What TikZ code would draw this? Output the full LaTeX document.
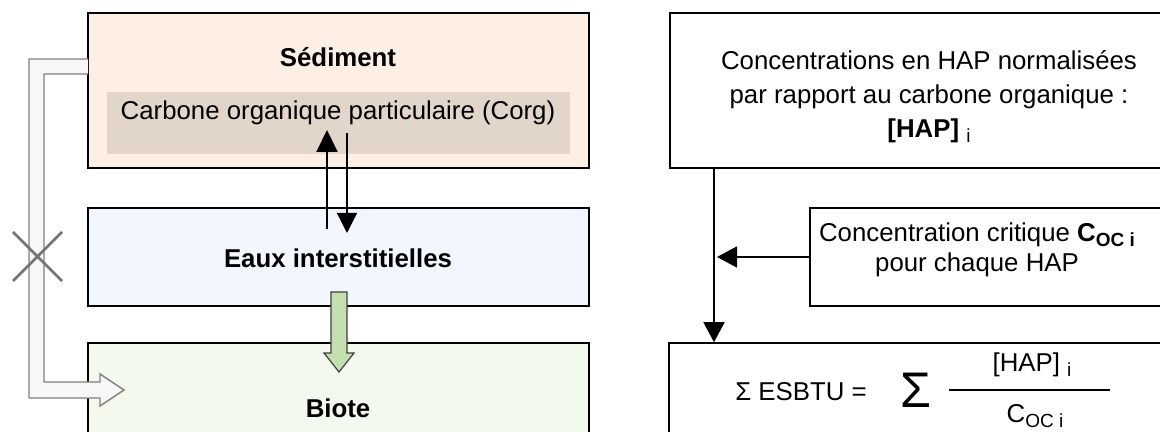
\documentclass[tikz,border=0pt]{standalone}
\usepackage{fontspec}
\setmainfont{Liberation Sans}
\usetikzlibrary{arrows.meta}

\definecolor{sedfill}{RGB}{253,239,227}
\definecolor{corgfill}{RGB}{226,214,202}
\definecolor{eauxfill}{RGB}{242,247,255}
\definecolor{biotefill}{RGB}{243,249,236}
\definecolor{greenarrow}{RGB}{196,224,176}
\definecolor{grayline}{RGB}{128,128,128}

\newcommand{\low}[1]{\raisebox{-0.35ex}{\fontsize{9.5}{10}\selectfont #1}}

\tikzstyle{box}=[draw=black, line width=0.8pt, inner sep=0pt]
\tikzstyle{txt}=[font=\fontsize{12.9}{17}\selectfont, align=center, inner sep=0pt]
\tikzstyle{arr}=[-{Triangle[length=10pt,width=10.5pt]}, line width=0.8pt]

\begin{document}
\begin{tikzpicture}[x=0.5pt, y=-0.5pt]
\useasboundingbox (0,0) rectangle (1160,432);

% left column
\node[box, fill=sedfill, minimum width=250.5pt, minimum height=77.5pt] (sed) at (338.5,90.5) {};
\node[fill=corgfill, inner sep=0pt, minimum width=231.5pt, minimum height=31pt] (corg) at (338.5,123) {};
\node[txt, font=\fontsize{12.9}{17}\selectfont\bfseries] (sedT) at (338,57) {Sédiment};
\node[txt] (corgT) at (338,113) {Carbone organique particulaire (Corg)};

\node[box, fill=eauxfill, minimum width=250.5pt, minimum height=49pt] (eaux) at (338.5,257) {};
\node[txt, font=\fontsize{12.9}{17}\selectfont\bfseries] (eauxT) at (338,258) {Eaux interstitielles};

\node[box, fill=biotefill, minimum width=250.5pt, minimum height=65pt] (biote) at (338.5,408) {};
\node[txt, font=\fontsize{12.9}{17}\selectfont\bfseries] (bioteT) at (338,408) {Biote};

% exchanges sediment / eaux
\coordinate (upS) at (327,229);
\coordinate (upE) at (327,130);
\coordinate (dnS) at (347,133);
\coordinate (dnE) at (347,233);
\draw[-{Triangle[length=11pt,width=10.5pt]}, line width=1pt] (upS) -- (upE);
\draw[-{Triangle[length=10pt,width=10pt]}, line width=0.65pt] (dnS) -- (dnE);

% eaux -> biote
\draw[draw=black!75, fill=greenarrow, line width=0.6pt]
  (331,292) -- (347,292) -- (347,353) -- (354,353) -- (339,372)
  -- (324,353) -- (331,353) -- cycle;

% direct path, crossed out
\draw[draw=grayline, fill=black!3, line width=0.7pt]
  (88,59) -- (29,59) -- (29,398) -- (100,398) -- (100,406) -- (124,390)
  -- (100,374) -- (100,382) -- (44,382) -- (44,74) -- (88,74);
\draw[draw=black!55, line width=1.4pt] (13,232) -- (62,281) (13,281) -- (62,232);

% right column
\node[box, minimum width=260pt, minimum height=77.5pt] (conc) at (930,90.5) {};
\node[txt] (concT) at (929,97) {Concentrations en HAP normalisées\\
  par rapport au carbone organique :\\
  {\bfseries [HAP]} \low{i}};

\node[box, minimum width=190pt, minimum height=49pt] (crit) at (1000,257) {};
\node[txt, font=\fontsize{12.9}{15}\selectfont] (critT) at (977,250)
  {Concentration critique {\bfseries C\low{OC i}}\\ pour chaque HAP};

\node[box, minimum width=260.5pt, minimum height=65pt] (esbtu) at (929.5,408) {};
\node[txt] (esbT) at (801,392) {Σ ESBTU =};
\node[txt, font=\fontsize{25}{25}\selectfont] (sigma) at (916,390) {Σ};
\node[txt] (num) at (1032,365) {[HAP] \low{i}};
\node[txt] (den) at (1035,416) {C\low{OC i}};
\draw[line width=0.8pt] (949,390) -- (1110,390);

\coordinate (vline) at (714,0);
\draw[arr] (conc.south -| vline) -- (esbtu.north -| vline);
\draw[arr] (crit.west) -- ([xshift=1.5pt]crit.west -| vline);
\end{tikzpicture}
\end{document}
